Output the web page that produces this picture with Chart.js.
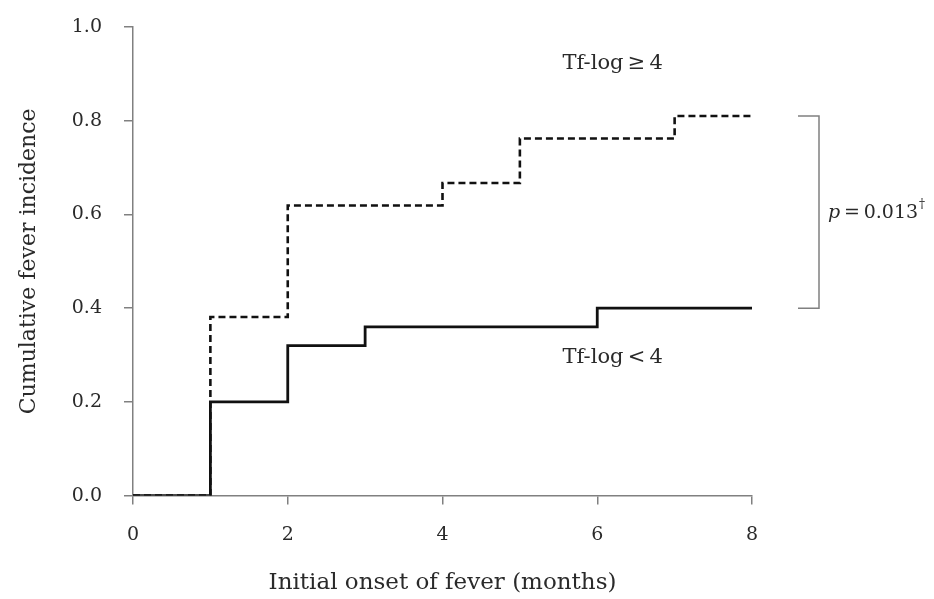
<!DOCTYPE html>
<html>
<head>
<meta charset="utf-8">
<script src="https://cdn.jsdelivr.net/npm/chart.js@4"></script>
<style>
  html, body { margin: 0; padding: 0; background: #fff; }
  #wrap { width: 934px; height: 599px; }
</style>
</head>
<body>
<div id="wrap"><canvas id="chart"></canvas></div>
<script>
// months from start; cumulative incidence after each step
const highMonths = [0, 1, 2, 4, 5, 7, 8];
const highValues = [0, 0.381, 0.619, 0.667, 0.762, 0.810, 0.810];
const lowMonths = [0, 1, 2, 3, 6, 8];
const lowValues = [0, 0.20, 0.32, 0.36, 0.40, 0.40];
const xTicks = [0, 2, 4, 6, 8];
const yTicks = [0, 0.2, 0.4, 0.6, 0.8, 1.0];
const highLabel = "Tf-log\u2009\u2265\u20094";
const lowLabel = "Tf-log\u2009<\u20094";
const pText = "0.013";

const serif = "'DejaVu Serif', 'Liberation Serif', serif";
const axisGray = "#808080";
const textColor = "#2a2a2a";

const toPoints = (xs, ys) => xs.map((x, i) => ({ x, y: ys[i] }));

// group labels, bracket and p value
const annotations = {
  id: "annotations",
  afterDatasetsDraw(chart) {
    const { ctx, chartArea, scales: { x, y } } = chart;
    ctx.save();
    ctx.fillStyle = textColor;
    ctx.font = `21px ${serif}`;
    ctx.textAlign = "center";
    ctx.textBaseline = "middle";
    ctx.fillText(highLabel, x.getPixelForValue(6.2), y.getPixelForValue(0.923));
    ctx.fillText(lowLabel, x.getPixelForValue(6.2), y.getPixelForValue(0.295));

    const yTop = y.getPixelForValue(highValues[highValues.length - 1]);
    const yBot = y.getPixelForValue(lowValues[lowValues.length - 1]);
    const bx = chartArea.right + 67;
    ctx.strokeStyle = axisGray;
    ctx.lineWidth = 1.5;
    ctx.beginPath();
    ctx.moveTo(chartArea.right + 46, yTop);
    ctx.lineTo(bx, yTop);
    ctx.lineTo(bx, yBot);
    ctx.lineTo(chartArea.right + 46, yBot);
    ctx.stroke();

    const my = (yTop + yBot) / 2 + 1;
    let tx = bx + 9;
    ctx.textAlign = "left";
    ctx.font = `italic 19px ${serif}`;
    ctx.fillText("p", tx, my);
    tx += ctx.measureText("p").width;
    ctx.font = `19px ${serif}`;
    const rest = "\u2009=\u2009" + pText;
    ctx.fillText(rest, tx, my);
    tx += ctx.measureText(rest).width;
    ctx.font = `12px ${serif}`;
    ctx.fillText("\u2020", tx + 1, my - 8);
    ctx.restore();
  }
};

new Chart(document.getElementById("chart"), {
  type: "line",
  data: {
    datasets: [
      {
        label: "Tf-log >= 4",
        data: toPoints(highMonths, highValues),
        stepped: true,
        borderColor: "#111",
        borderWidth: 2.6,
        borderDash: [7, 4],
        pointRadius: 0,
        fill: false,
      },
      {
        label: "Tf-log < 4",
        data: toPoints(lowMonths, lowValues),
        stepped: true,
        borderColor: "#111",
        borderWidth: 2.8,
        pointRadius: 0,
        fill: false,
      },
    ],
  },
  options: {
    responsive: true,
    maintainAspectRatio: false,
    animation: false,
    layout: { padding: { left: 8, right: 182, top: 27, bottom: 0 } },
    plugins: { legend: { display: false }, tooltip: { enabled: false } },
    scales: {
      x: {
        type: "linear",
        min: 0,
        max: 8,
        afterBuildTicks: s => { s.ticks = xTicks.map(v => ({ value: v })); },
        grid: { drawOnChartArea: false, drawTicks: true, tickLength: 9, color: axisGray, lineWidth: 1.5 },
        border: { color: axisGray, width: 1.5 },
        ticks: { color: textColor, font: { family: serif, size: 19 }, padding: 19, maxRotation: 0 },
        title: {
          display: true,
          text: "Initial onset of fever (months)",
          color: textColor,
          font: { family: serif, size: 23 },
          padding: { top: 4, bottom: 2 },
        },
      },
      y: {
        min: 0,
        max: 1,
        afterBuildTicks: s => { s.ticks = yTicks.map(v => ({ value: v })); },
        afterFit: s => { s.width = 125; s.paddingTop = 0; s.paddingBottom = 0; },
        grid: { drawOnChartArea: false, drawTicks: true, tickLength: 9, color: axisGray, lineWidth: 1.5 },
        border: { color: axisGray, width: 1.5 },
        ticks: { color: textColor, font: { family: serif, size: 19 }, padding: 22, callback: v => v.toFixed(1) },
        title: {
          display: true,
          text: "Cumulative fever incidence",
          color: textColor,
          font: { family: serif, size: 22 },
          padding: { top: 8, bottom: 0 },
        },
      },
    },
  },
  plugins: [annotations],
});
</script>
</body>
</html>
